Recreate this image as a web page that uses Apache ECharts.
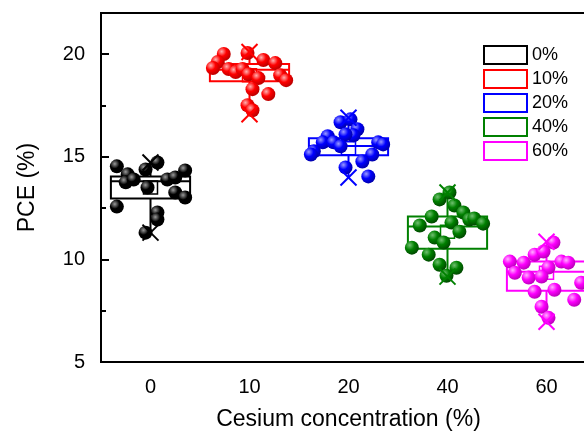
<!DOCTYPE html>
<html>
<head>
<meta charset="utf-8">
<script src="https://cdn.jsdelivr.net/npm/echarts@6/dist/echarts.min.js"></script>
<style>html,body{margin:0;padding:0;background:#fff}#c{width:584px;height:433px}</style>
</head>
<body>
<div id="c"></div>
<script>
// ---- data ----
const categories = ['0', '10', '20', '40', '60'];
const legendNames = ['0%', '10%', '20%', '40%', '60%'];
const colors = ['#000000', '#ff0000', '#0000ff', '#008000', '#ff00ff'];

// individual PCE values (%) and their horizontal jitter within each group
const pce0 = [14.53, 14.14, 13.75, 13.89, 14.38, 13.50, 14.72, 13.89, 13.99, 14.33, 13.26, 13.01, 12.57, 12.28, 11.94, 11.30];
const jit0 = [-0.34, -0.23, -0.25, -0.17, -0.05, -0.03, 0.07, 0.17, 0.25, 0.35, 0.25, 0.35, -0.34, 0.07, 0.07, -0.05];
const pce10 = [20.0, 20.05, 19.61, 19.32, 19.27, 19.12, 19.27, 19.02, 18.83, 19.71, 19.56, 18.97, 18.73, 18.29, 18.05, 17.51, 17.26];
const jit10 = [-0.26, -0.02, -0.32, -0.37, -0.21, -0.14, -0.07, -0.01, 0.09, 0.14, 0.26, 0.31, 0.37, 0.03, 0.19, -0.02, 0.03];
const pce20 = [16.68, 16.82, 16.34, 16.04, 16.09, 16.0, 15.70, 15.70, 15.51, 15.26, 15.11, 15.70, 15.60, 15.11, 14.77, 14.48, 14.04];
const jit20 = [-0.08, 0.02, 0.09, 0.05, -0.03, -0.21, -0.26, -0.15, -0.08, -0.35, -0.38, 0.30, 0.35, 0.24, 0.14, -0.03, 0.20];
const pce40 = [12.92, 13.26, 12.62, 12.28, 12.09, 11.65, 11.79, 11.94, 11.99, 11.74, 11.35, 11.06, 10.82, 10.57, 10.23, 9.74, 9.59, 9.20];
const jit40 = [-0.08, 0.02, 0.07, 0.16, -0.16, -0.28, 0.04, 0.22, 0.27, 0.36, 0.12, -0.13, -0.04, -0.36, -0.19, -0.08, 0.09, -0.01];
const pce60 = [10.82, 10.23, 10.38, 9.89, 9.84, 9.89, 9.84, 9.60, 9.35, 9.11, 9.16, 8.86, 8.42, 8.52, 8.03, 7.69, 7.15];
const jit60 = [0.07, -0.12, -0.03, -0.37, -0.23, 0.15, 0.22, 0.02, -0.32, -0.18, -0.05, 0.35, -0.12, 0.08, 0.28, -0.05, 0.02];

// box statistics per group
const q1 = [12.97, 18.68, 15.07, 10.52, 8.47];
const median = [13.81, 19.23, 15.52, 11.60, 9.40];
const q3 = [14.04, 19.51, 15.90, 12.09, 9.89];
const mean = [13.50, 18.97, 15.41, 11.35, 9.35];
const minV = [11.30, 17.07, 13.99, 9.16, 6.96];
const maxV = [14.72, 20.10, 16.90, 13.26, 10.86];

const yTicks = [5, 10, 15, 20];

// ---- chart ----
const pceAll = [pce0, pce10, pce20, pce40, pce60];
const jitAll = [jit0, jit10, jit20, jit40, jit60];
const lights = ['#9a9a9a', '#ffb0b0', '#9a9aff', '#70c070', '#ffb0ff'];
const darks = ['#000000', '#b00000', '#0000a0', '#004000', '#b000b0'];
const FONT = 'Liberation Sans, Arial, sans-serif';

function boxRender(params, api) {
  const i = api.value(0);
  const half = api.size([0.4, 0])[0];
  const p = (v) => api.coord([i, v]);
  const col = colors[i];
  const cx = p(0)[0];
  const yMin = p(api.value(1))[1], yQ1 = p(api.value(2))[1], yMed = p(api.value(3))[1],
        yQ3 = p(api.value(4))[1], yMax = p(api.value(5))[1], yMean = p(api.value(6))[1];
  const st = { stroke: col, lineWidth: 2, fill: null };
  return {
    type: 'group',
    children: [
      { type: 'line', shape: { x1: cx, y1: yQ1, x2: cx, y2: yMin }, style: st },
      { type: 'line', shape: { x1: cx, y1: yQ3, x2: cx, y2: yMax }, style: st },
      { type: 'rect', shape: { x: cx - half, y: yQ3, width: 2 * half, height: yQ1 - yQ3 }, style: { stroke: col, lineWidth: 2, fill: '#fff' } },
      { type: 'line', shape: { x1: cx - half, y1: yMed, x2: cx + half, y2: yMed }, style: st },
      { type: 'rect', shape: { x: cx - 7, y: yMean - 6.5, width: 14, height: 13 }, style: { stroke: col, lineWidth: 1.5, fill: null } }
    ]
  };
}

function crossRender(params, api) {
  const i = api.value(0);
  const pt = api.coord([i, api.value(1)]);
  const h = 8;
  const st = { stroke: colors[i], lineWidth: 2 };
  return {
    type: 'group',
    children: [
      { type: 'line', shape: { x1: pt[0] - h, y1: pt[1] - h, x2: pt[0] + h, y2: pt[1] + h }, style: st },
      { type: 'line', shape: { x1: pt[0] - h, y1: pt[1] + h, x2: pt[0] + h, y2: pt[1] - h }, style: st }
    ]
  };
}

const series = [];
categories.forEach((c, i) => {
  series.push({
    name: legendNames[i], type: 'custom', xAxisIndex: 2, yAxisIndex: 0, z: 2,
    renderItem: boxRender, clip: false,
    encode: { x: 0, y: [1, 2, 3, 4, 5, 6] },
    data: [[i, minV[i], q1[i], median[i], q3[i], maxV[i], mean[i]]],
    itemStyle: { color: '#fff', borderColor: colors[i], borderWidth: 2 }
  });
});
categories.forEach((c, i) => {
  series.push({
    name: 'pts' + i, type: 'scatter', xAxisIndex: 2, yAxisIndex: 0, z: 3,
    symbolSize: 14,
    itemStyle: {
      opacity: 1,
      color: { type: 'radial', x: 0.35, y: 0.32, r: 0.75,
        colorStops: [{ offset: 0, color: lights[i] }, { offset: 0.45, color: colors[i] }, { offset: 1, color: darks[i] }] }
    },
    data: pceAll[i].map((v, k) => [i + jitAll[i][k], v])
  });
});
series.push({
  name: 'cross', type: 'custom', xAxisIndex: 2, yAxisIndex: 0, z: 4,
  renderItem: crossRender, encode: { x: 0, y: 1 },
  data: categories.flatMap((c, i) => [[i, minV[i]], [i, maxV[i]]])
});

const chart = echarts.init(document.getElementById('c'), null, { renderer: 'canvas' });
chart.setOption({
  animation: false,
  backgroundColor: '#fff',
  textStyle: { fontFamily: FONT },
  grid: { left: 101, top: 13, width: 495, height: 349, outerBoundsMode: 'none', containLabel: false,
    show: true, borderColor: '#000', borderWidth: 2, backgroundColor: 'transparent' },
  legend: {
    orient: 'vertical', left: 483, top: 45, padding: 0,
    itemWidth: 43, itemHeight: 18, itemGap: 4,
    textStyle: { fontSize: 18, color: '#000', fontFamily: FONT, lineHeight: 20 },
    data: legendNames.map((n, i) => ({ name: n, icon: 'rect', itemStyle: { color: '#fff', borderColor: colors[i], borderWidth: 2 } }))
  },
  xAxis: [
    {
      type: 'category', data: categories, boundaryGap: true, position: 'bottom',
      axisLine: { onZero: false, lineStyle: { color: '#000', width: 2 } },
      axisTick: { inside: true, alignWithLabel: true, length: 8, lineStyle: { width: 2, color: '#000' } },
      axisLabel: { fontSize: 20, color: '#000', margin: 15, fontFamily: FONT },
      name: 'Cesium concentration (%)', nameLocation: 'middle', nameGap: 46,
      nameTextStyle: { fontSize: 23, color: '#000', fontFamily: FONT },
      splitLine: { show: false }
    },
    {
      type: 'category', data: categories, boundaryGap: true, position: 'bottom',
      axisLine: { show: false, onZero: false },
      axisTick: { inside: true, alignWithLabel: false, length: 5, lineStyle: { width: 2, color: '#000' } },
      axisLabel: { show: false }, splitLine: { show: false }
    },
    {
      type: 'value', min: -0.5, max: 4.5, show: false, splitLine: { show: false },
      axisLine: { onZero: false }
    }
  ],
  yAxis: [
    {
      type: 'value', min: 5, max: 22, interval: 5, position: 'left',
      axisLine: { show: true, onZero: false, lineStyle: { color: '#000', width: 2 } },
      axisTick: { show: true, inside: true, length: 8, lineStyle: { width: 2, color: '#000' } },
      axisLabel: { fontSize: 20, color: '#000', margin: 16, fontFamily: FONT,
        formatter: (v) => (yTicks.indexOf(v) >= 0 ? String(v) : '') },
      splitLine: { show: false },
      name: 'PCE (%)', nameLocation: 'middle', nameGap: 62, nameRotate: 90,
      nameTextStyle: { fontSize: 23, color: '#000', fontFamily: FONT }
    },
    {
      type: 'value', min: 5, max: 22, interval: 2.5, position: 'left',
      axisLine: { show: false, onZero: false },
      axisTick: { show: true, inside: true, length: 5, lineStyle: { width: 2, color: '#000' } },
      axisLabel: { show: false }, splitLine: { show: false }
    }
  ],
  series: series
});
</script>
</body>
</html>
